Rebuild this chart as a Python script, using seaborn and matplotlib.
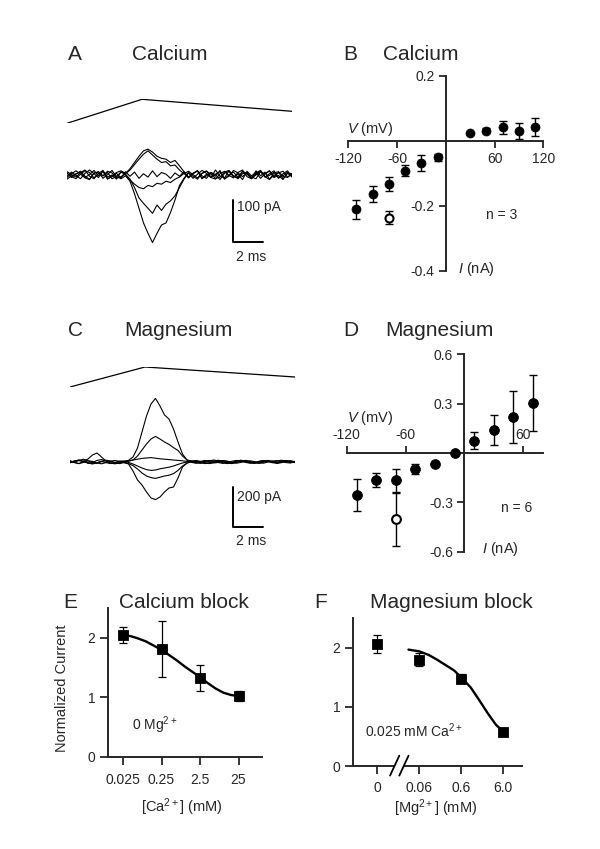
import numpy as np
import pandas as pd
import matplotlib
matplotlib.use("Agg")
import matplotlib.pyplot as plt
from matplotlib.ticker import NullLocator
import seaborn as sns

# ==========================================
# data
# ==========================================
# A / C: whole-cell current traces (pA), one sample every 0.3 ms
dt_ms = 0.3
ca_traces = [
    [4, -6, 2, 9, -3, -10, 5, 7, -8, 1, 11, -4, -9, -2,
     -15, -45, -80, -115, -140, -162, -140, -120, -115, -90, -60, -25, -8,
     6, -3, -10, 4, 9, 2, -8, -5, 7, 11, -2, -9, 3, 6, -7, 0, 10, -4, -11, 5, 8, -3, -6, 4],
    [-6, 3, 10, 2, -7, -11, 4, 8, -2, 6, -9, -3, 7, 1,
     -10, -30, -55, -68, -80, -92, -72, -85, -70, -62, -50, -30, -10,
     5, -8, 2, 11, 4, -6, -10, 3, 9, -1, -7, 6, 12, -4, -9, 2, 8, -5, 3, 10, -6, -2, 7, -3],
    [8, 1, -5, 6, 12, -3, -9, 4, -2, 9, 5, -7, -4, 2,
     -12, -22, -30, -33, -25, -28, -20, -22, -15, -18, -10, -5, 4,
     -7, 3, 10, -2, -8, 6, 1, -11, 4, 9, -3, -6, 8, 2, -9, 5, 11, -4, -1, 7, -8, 3, 10, -5],
    [-3, 7, -1, -9, 4, 12, 3, -6, 9, -10, -2, 6, 10, 4,
     15, 30, 45, 58, 62, 55, 45, 40, 38, 30, 35, 22, 8,
     -5, 4, 10, -8, -2, 6, -3, 11, -10, 1, 7, -6, 9, 3, -5, -9, 8, 2, 10, -6, -1, -11, 5, 3],
    [5, -4, -9, 2, 10, 6, -7, 4, 11, -5, 0, -10, 8, 3,
     12, 25, 38, 50, 58, 48, 38, 30, 32, 22, 24, 12, 3,
     9, 1, -7, 4, 10, -5, 2, 8, -9, -3, 11, 5, -4, 6, -8, 10, -2, 7, -10, -1, 5, 9, -5, 2],
    [-10, -2, 3, 8, -6, 1, 11, -2, 9, -9, -4, 4, -7, 8, -3, 7, -8, 3, -5, 10,
     -4, 6, 2, -8, 5, -3, 8, -6, 4, 10, -9, 2, -6, 12, -3, -7, 10, -5, 2, -11,
     9, -2, 6, -8, 3, 10, -5, 7, -9, 4, -4],
]
mg_traces = [
    [0, 5, 10, 4, -6, -3, 8, 12, 6, -4, -8, 2, 5, 8, 25, 70, 150, 230, 290, 318,
     280, 235, 215, 165, 100, 40, 10, 2, -4, 3, 8, 2, -5, -2, 6, 4, -3, 2, 7, 3,
     -4, -6, 2, 5, 8, 3, -2, 4, 6, 0, 3],
    [-4, 2, 8, 14, 6, -2, -6, 3, 9, 5, -3, -8, -2, 4, 10, 30, 60, 90, 115, 128,
     115, 100, 88, 72, 58, 30, 10, 4, -3, -7, 2, 6, 10, 4, -4, -8, -2, 5, 9, 4,
     -2, -5, 3, 7, 2, -4, 5, 9, 3, -3, 2],
    [6, -2, -8, 4, 15, 35, 45, 25, 5, -6, -9, -4, 0, 5, 10, 14, 18, 20, 22, 19,
     16, 14, 12, 10, 8, 6, 3, -2, -6, -3, 4, 8, 3, -3, -7, -2, 4, 8, 5, -2,
     -6, -3, 3, 7, 4, -2, -5, 2, 6, 1, -3],
    [-3, 4, 9, 3, -5, -10, -4, 2, -3, -8, -2, 5, 3, -2, -10, -20, -30, -38, -42, -40,
     -34, -30, -26, -20, -12, -5, 0, 6, 3, -4, -8, -3, 5, 9, 2, -5, -8, -2, 4, 7,
     1, -4, -7, -1, 5, 3, -4, -2, 6, 2, -3],
    [5, -3, -8, -2, 6, 3, -5, -9, -3, 4, 8, 2, -4, -8, -18, -35, -55, -70, -78, -82,
     -76, -70, -66, -58, -42, -20, -6, 2, 7, 3, -4, -8, -2, 6, 4, -3, -6, 0, 5, 8,
     2, -5, -3, 4, 6, -2, -7, -3, 4, 7, 1],
    [-2, 4, 7, 2, -4, -7, -3, 3, 6, 2, -3, -6, -1, -10, -45, -90, -115, -150, -180, -188,
     -175, -150, -130, -125, -80, -25, -5, 3, 6, 1, -5, -7, -2, 4, 7, 3, -3, -6, -2, 3,
     6, 2, -4, -6, 0, 5, 7, 2, -3, -5, 2],
]
# voltage ramp command
ramp_ms = [0, 5, 15]
ramp_mv = [-120, 120, 0]

# B: calcium I-V
ca_iv_mv = [-110, -90, -70, -50, -30, -10, 30, 50, 70, 90, 110]
ca_iv_na = [-0.211, -0.165, -0.133, -0.092, -0.069, -0.051, 0.023, 0.031, 0.041, 0.031, 0.042]
ca_iv_sem = [0.029, 0.025, 0.021, 0.017, 0.024, 0.011, 0.0, 0.008, 0.021, 0.025, 0.027]
ca_open_mv = [-70]
ca_open_na = [-0.237]
ca_open_sem = [0.02]

# D: magnesium I-V
mg_iv_mv = [-110, -90, -70, -50, -30, -10, 10, 30, 50, 70]
mg_iv_na = [-0.255, -0.164, -0.167, -0.097, -0.067, 0.0, 0.075, 0.14, 0.22, 0.303]
mg_iv_sem = [0.098, 0.042, 0.068, 0.03, 0.0, 0.0, 0.05, 0.093, 0.157, 0.169]
mg_open_mv = [-70]
mg_open_na = [-0.404]
mg_open_sem = [0.163]

# E: calcium block
ca_conc = [0.025, 0.25, 2.5, 25]
ca_conc_labels = ["0.025", "0.25", "2.5", "25"]
ca_norm = [2.05, 1.81, 1.33, 1.02]
ca_sem = [0.14, 0.47, 0.22, 0.09]
ca_fit_conc = [0.025, 0.04, 0.063, 0.1, 0.158, 0.25, 0.398, 0.631, 1.0, 1.585,
               2.5, 3.98, 6.31, 10.0, 15.8, 25]
ca_fit_norm = [2.05, 2.03, 1.99, 1.94, 1.87, 1.80, 1.71, 1.62, 1.52, 1.43,
               1.34, 1.24, 1.15, 1.08, 1.04, 1.02]

# F: magnesium block
mg_conc = [0.0, 0.06, 0.6, 6.0]
mg_conc_labels = ["0", "0.06", "0.6", "6.0"]
mg_norm = [2.06, 1.80, 1.48, 0.58]
mg_sem = [0.15, 0.11, 0.07, 0.03]
mg_fit_conc = [0.033, 0.06, 0.1, 0.158, 0.251, 0.398, 0.6, 1.0, 1.585, 2.512, 3.98, 6.0]
mg_fit_norm = [1.97, 1.94, 1.88, 1.80, 1.71, 1.62, 1.50, 1.33, 1.12, 0.90, 0.70, 0.58]

# ==========================================
# style
# ==========================================
sns.set_theme(style="ticks")
plt.rcParams['font.family'] = ['Liberation Sans', 'DejaVu Sans']
plt.rcParams['mathtext.fontset'] = 'custom'
plt.rcParams['mathtext.rm'] = 'Liberation Sans'
plt.rcParams['mathtext.it'] = 'Liberation Sans:italic'
plt.rcParams['axes.unicode_minus'] = False
plt.rcParams['axes.linewidth'] = 1.4

W, H = 600, 849
fig = plt.figure(figsize=(W / 100, H / 100), dpi=100)


def px_axes(x0, y0, x1, y1):
    # axes box given in figure pixels, origin top-left
    ax = fig.add_axes([x0 / W, 1 - y1 / H, (x1 - x0) / W, (y1 - y0) / H])
    ax.patch.set_alpha(0)
    return ax


def px_text(x, y, s, **kw):
    kw.setdefault('ha', 'left')
    kw.setdefault('va', 'center')
    fig.text(x / W, 1 - y / H, s, **kw)


TITLE = 15
TICK = 10

# ==========================================
# A / C: traces
# ==========================================
def trace_panel(traces, box, ylim, ramp_box, bar_t, bar_top, bar_pa, bar_label, lab_y, ms_y):
    ax_r = px_axes(*ramp_box)
    sns.lineplot(x=ramp_ms, y=ramp_mv, color='black', lw=0.9, ax=ax_r)
    ax_r.set_xlim(0, 15)
    ax_r.set_ylim(-120, 120)
    ax_r.axis('off')

    ax = px_axes(*box)
    rows = [(k, i * dt_ms, v) for k, tr in enumerate(traces) for i, v in enumerate(tr)]
    df = pd.DataFrame(rows, columns=['trace', 't', 'pA'])
    sns.lineplot(data=df, x='t', y='pA', units='trace', estimator=None,
                 color='black', lw=0.8, ax=ax, legend=False)
    ax.set_xlim(0, 15)
    ax.set_ylim(*ylim)
    ax.axis('off')
    # scale bar
    ax.plot([bar_t, bar_t, bar_t + 2], [bar_top, bar_top - bar_pa, bar_top - bar_pa],
            color='black', lw=1.4, clip_on=False)
    ax.text(bar_t + 0.3, lab_y, bar_label, fontsize=TICK, va='center', ha='left')
    ax.text(bar_t + 1.2, ms_y, "2 ms", fontsize=TICK, va='center', ha='center')


trace_panel(ca_traces, (67, 140, 292, 250), (-180, 84), (67, 99.3, 292, 123.3),
            11.05, -60, 100, "100 pA", -76, -197)
trace_panel(mg_traces, (70, 392, 295, 512), (-250, 350), (70, 367, 295, 387),
            10.85, -125, 200, "200 pA", -175, -395)

# ==========================================
# B / D: I-V curves
# ==========================================
def iv_panel(box, xlim, ylim, xticks, yticks, top_labels, v, i, e, ov, oi, oe, msize):
    ax = px_axes(*box)
    ax.set_xlim(*xlim)
    ax.set_ylim(*ylim)
    ax.spines['left'].set_position(('data', 0))
    ax.spines['right'].set_visible(False)
    if top_labels:
        ax.spines['top'].set_position(('data', 0))
        ax.spines['bottom'].set_visible(False)
        ax.tick_params(axis='x', top=True, labeltop=True, bottom=False, labelbottom=False)
    else:
        ax.spines['bottom'].set_position(('data', 0))
        ax.spines['top'].set_visible(False)
    ax.set_xticks(xticks)
    ax.set_xticklabels([str(t) for t in xticks])
    ax.set_yticks(yticks)
    ax.set_yticklabels([f"{t:g}" for t in yticks])
    ax.tick_params(direction='out', length=5, width=1.3, labelsize=TICK, pad=3)
    ax.errorbar(v, i, yerr=e, fmt='none', ecolor='black', elinewidth=1,
                capsize=3, capthick=1, zorder=2, clip_on=False)
    ax.errorbar(ov, oi, yerr=oe, fmt='none', ecolor='black', elinewidth=1,
                capsize=3, capthick=1, zorder=2, clip_on=False)
    sns.scatterplot(x=v, y=i, color='black', edgecolor='black', s=msize, marker='o',
                    ax=ax, zorder=3, clip_on=False, legend=False)
    sns.scatterplot(x=ov, y=oi, color='white', edgecolor='black', linewidth=1.5,
                    s=msize * 0.8, marker='o', ax=ax, zorder=3, clip_on=False, legend=False)
    return ax


iv_panel((348.3, 75.7, 543.3, 270.7), (-120, 120), (-0.4, 0.2),
         [-120, -60, 60, 120], [-0.4, -0.2, 0.2], False,
         ca_iv_mv, ca_iv_na, ca_iv_sem, ca_open_mv, ca_open_na, ca_open_sem, 42)
px_text(347, 129, "$V$ (mV)", fontsize=TICK + 0.5)
px_text(458, 269, "$I$ (nA)", fontsize=TICK + 0.5)
px_text(502, 215, "n = 3", fontsize=TICK, ha='center')

iv_panel((346.7, 354.3, 542.7, 551.7), (-120, 80), (-0.6, 0.6),
         [-120, -60, 60], [-0.6, -0.3, 0.3, 0.6], True,
         mg_iv_mv, mg_iv_na, mg_iv_sem, mg_open_mv, mg_open_na, mg_open_sem, 50)
px_text(347, 418, "$V$ (mV)", fontsize=TICK + 0.5)
px_text(482, 549, "$I$ (nA)", fontsize=TICK + 0.5)
px_text(517, 508, "n = 6", fontsize=TICK, ha='center')

# ==========================================
# E / F: block curves
# ==========================================
def block_axes(box, xlim, ticks, labels):
    ax = px_axes(*box)
    ax.set_xscale('log')
    ax.set_xlim(*xlim)
    ax.set_ylim(0, 2.5)
    ax.set_xticks(ticks)
    ax.set_xticklabels(labels)
    ax.xaxis.set_minor_locator(NullLocator())
    ax.set_yticks([0, 1, 2])
    ax.set_yticklabels(["0", "1", "2"])
    sns.despine(ax=ax)
    ax.tick_params(direction='out', length=5.5, width=1.3, labelsize=TICK)
    return ax


# E
axE = block_axes((107.7, 608.3, 261.7, 756.7), (0.01, 100), ca_conc, ca_conc_labels)
axE.tick_params(axis='x', pad=6)
sns.lineplot(x=ca_fit_conc, y=ca_fit_norm, color='black', lw=1.7, ax=axE)
axE.errorbar(ca_conc, ca_norm, yerr=ca_sem, fmt='none', ecolor='black', elinewidth=0.9,
             capsize=3, capthick=0.9, zorder=2)
sns.scatterplot(x=ca_conc, y=ca_norm, color='black', marker='s', s=55, edgecolor='black',
                ax=axE, zorder=3, legend=False)
px_text(132, 725, "0 Mg$^{2+}$", fontsize=TICK)
px_text(182, 807, "[Ca$^{2+}$] (mM)", fontsize=TICK + 0.5, ha='center')
px_text(62, 688, "Normalized Current", fontsize=TICK + 0.5, ha='center', rotation=90)

# F
ZERO_POS = 0.006
mg_pos = [ZERO_POS if c == 0 else c for c in mg_conc]
axF = block_axes((352.7, 618.3, 521.7, 766), (10 ** -2.81, 10 ** 1.216), mg_pos, mg_conc_labels)
axF.tick_params(axis='x', pad=5)
sns.lineplot(x=mg_fit_conc, y=mg_fit_norm, color='black', lw=1.7, ax=axF)
axF.errorbar(mg_pos, mg_norm, yerr=mg_sem, fmt='none', ecolor='black', elinewidth=0.9,
             capsize=3, capthick=0.9, zorder=2)
sns.scatterplot(x=mg_pos, y=mg_norm, color='black', marker='s', s=55, edgecolor='black',
                ax=axF, zorder=3, legend=False)
# axis break marks
tr = axF.get_xaxis_transform()
axF.plot([10 ** -1.80, 10 ** -1.62], [0, 0], color='white', lw=3, transform=tr,
         clip_on=False, zorder=4, solid_capstyle='butt')
for c in (-1.81, -1.59):
    axF.plot([10 ** (c - 0.11), 10 ** (c + 0.11)], [-0.065, 0.07], color='black', lw=1.3,
             transform=tr, clip_on=False, zorder=5)
px_text(365, 731, "0.025 mM Ca$^{2+}$", fontsize=TICK)
px_text(436, 808, "[Mg$^{2+}$] (mM)", fontsize=TICK + 0.5, ha='center')

# ==========================================
# panel letters and titles
# ==========================================
for x, y, s in [(68, 55, "A"), (343, 55, "B"), (68, 330, "C"), (343, 330, "D"),
                (63, 603, "E"), (314, 603, "F")]:
    px_text(x, y, s, fontsize=TITLE)
for x, y, s in [(170, 55, "Calcium"), (421, 55, "Calcium"), (178, 330, "Magnesium"),
                (439, 330, "Magnesium"), (184, 603, "Calcium block"),
                (451, 603, "Magnesium block")]:
    px_text(x, y, s, fontsize=TITLE, ha='center')

fig.savefig("out.png", dpi=100)
